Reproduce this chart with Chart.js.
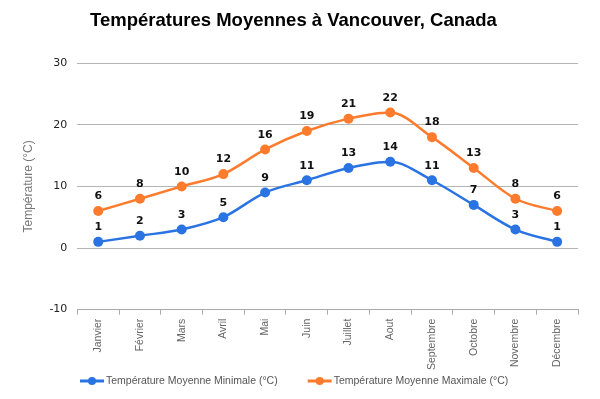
<!DOCTYPE html>
<html>
<head>
<meta charset="utf-8">
<script src="https://cdn.jsdelivr.net/npm/chart.js@4"></script>
<style>
  html, body { margin: 0; padding: 0; background: #fff; }
  #wrap { width: 600px; height: 399px; }
</style>
</head>
<body>
<div id="wrap"><canvas id="tempChart"></canvas></div>
<script>
const months = ['Janvier', 'Février', 'Mars', 'Avril', 'Mai', 'Juin', 'Juillet', 'Aout', 'Septembre', 'Octobre', 'Novembre', 'Décembre'];
const minTemps = [1, 2, 3, 5, 9, 11, 13, 14, 11, 7, 3, 1];
const maxTemps = [6, 8, 10, 12, 16, 19, 21, 22, 18, 13, 8, 6];
const yTicks = [-10, 0, 10, 20, 30];

const BLUE = '#2a73e2';
const ORANGE = '#fd7b2c';
const SMALL_FONT = '"Liberation Sans", Arial, sans-serif';

// Draws the value above each point
const pointLabels = {
    id: 'pointLabels',
    afterDatasetsDraw: (chart) => {
        const ctx = chart.ctx;
        ctx.save();
        ctx.font = 'bold 11px Verdana, "DejaVu Sans", sans-serif';
        ctx.fillStyle = '#111';
        ctx.textAlign = 'center';
        ctx.textBaseline = 'bottom';
        chart.data.datasets.forEach((ds, i) => {
            chart.getDatasetMeta(i).data.forEach((pt, j) => {
                ctx.fillText(ds.data[j], pt.x, pt.y - 9);
            });
        });
        ctx.restore();
    }
};

// Legend at the bottom: short line with a dot, then the label
const bottomLegend = {
    id: 'bottomLegend',
    afterDraw: (chart) => {
        const ctx = chart.ctx;
        const y = chart.height - 18;
        let x = 80;
        ctx.save();
        ctx.font = '10.5px ' + SMALL_FONT;
        ctx.textBaseline = 'middle';
        chart.data.datasets.forEach((ds) => {
            ctx.strokeStyle = ds.borderColor;
            ctx.lineWidth = 3;
            ctx.beginPath();
            ctx.moveTo(x, y);
            ctx.lineTo(x + 24, y);
            ctx.stroke();
            ctx.beginPath();
            ctx.arc(x + 12, y, 4, 0, Math.PI * 2);
            ctx.fillStyle = ds.borderColor;
            ctx.fill();
            ctx.fillStyle = '#555';
            ctx.fillText(ds.label, x + 26, y);
            x += 26 + ctx.measureText(ds.label).width + 30;
        });
        ctx.restore();
    }
};

const ctx = document.getElementById('tempChart').getContext('2d');
new Chart(ctx, {
    type: 'line',
    data: {
        labels: months,
        datasets: [{
            label: 'Température Moyenne Minimale (°C)',
            data: minTemps,
            borderColor: BLUE,
            backgroundColor: BLUE,
            borderWidth: 2.5,
            pointRadius: 5,
            pointBorderWidth: 0,
            pointHoverRadius: 5,
            cubicInterpolationMode: 'monotone'
        }, {
            label: 'Température Moyenne Maximale (°C)',
            data: maxTemps,
            borderColor: ORANGE,
            backgroundColor: ORANGE,
            borderWidth: 2.5,
            pointRadius: 5,
            pointBorderWidth: 0,
            pointHoverRadius: 5,
            cubicInterpolationMode: 'monotone'
        }]
    },
    options: {
        responsive: true,
        maintainAspectRatio: false,
        animation: false,
        layout: {
            padding: { left: 9, right: 22, top: 4, bottom: 25 }
        },
        plugins: {
            title: {
                display: true,
                text: 'Températures Moyennes à Vancouver, Canada',
                color: '#000',
                font: { family: '"Liberation Sans", Arial, sans-serif', size: 18.5, weight: 'bold' },
                padding: { top: 6, bottom: 31 }
            },
            legend: { display: false },
            tooltip: { enabled: false }
        },
        scales: {
            x: {
                offset: true,
                grid: {
                    display: true,
                    drawOnChartArea: false,
                    drawTicks: true,
                    tickLength: 5,
                    offset: true,
                    color: '#aaa'
                },
                border: { color: '#aaa' },
                ticks: {
                    color: '#666',
                    font: { family: SMALL_FONT, size: 10.5 },
                    maxRotation: 90,
                    minRotation: 90,
                    padding: 4
                }
            },
            y: {
                min: -10,
                max: 30,
                afterBuildTicks: (axis) => {
                    axis.ticks = yTicks.map(v => ({ value: v }));
                },
                grid: {
                    color: '#b5b5b5',
                    drawTicks: false
                },
                border: { display: false },
                ticks: {
                    color: '#222',
                    font: { family: 'Verdana, "DejaVu Sans", sans-serif', size: 11 },
                    padding: 10
                },
                title: {
                    display: true,
                    text: 'Température (°C)',
                    color: '#777',
                    font: { family: SMALL_FONT, size: 12 },
                    padding: { top: 12, bottom: 4 }
                }
            }
        }
    },
    plugins: [pointLabels, bottomLegend]
});
</script>
</body>
</html>
